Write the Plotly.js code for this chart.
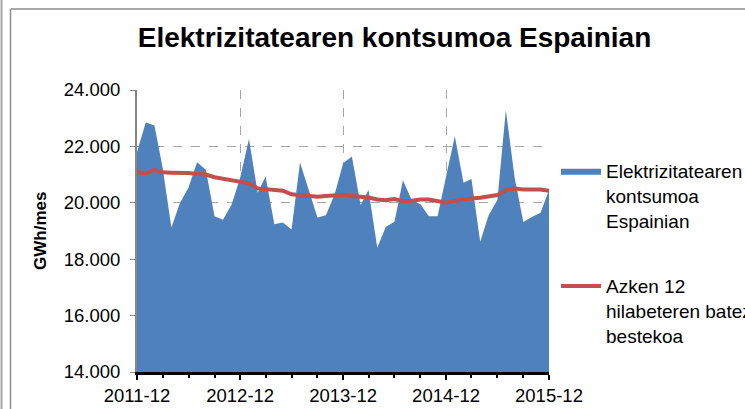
<!DOCTYPE html>
<html>
<head>
<meta charset="utf-8">
<script src="https://cdn.plot.ly/plotly-3.0.1.min.js"></script>
<style>
html,body{margin:0;padding:0;background:#fff;overflow:hidden;}
#chart{width:745px;height:409px;}
</style>
</head>
<body>
<div id="chart"></div>
<script>
var months = [
"2011-12-01","2012-01-01","2012-02-01","2012-03-01","2012-04-01","2012-05-01","2012-06-01","2012-07-01","2012-08-01","2012-09-01","2012-10-01","2012-11-01",
"2012-12-01","2013-01-01","2013-02-01","2013-03-01","2013-04-01","2013-05-01","2013-06-01","2013-07-01","2013-08-01","2013-09-01","2013-10-01","2013-11-01",
"2013-12-01","2014-01-01","2014-02-01","2014-03-01","2014-04-01","2014-05-01","2014-06-01","2014-07-01","2014-08-01","2014-09-01","2014-10-01","2014-11-01",
"2014-12-01","2015-01-01","2015-02-01","2015-03-01","2015-04-01","2015-05-01","2015-06-01","2015-07-01","2015-08-01","2015-09-01","2015-10-01","2015-11-01",
"2015-12-01"];

var consumption = [
21800,22850,22740,21230,19120,19980,20550,21440,21170,19520,19400,19950,
20900,22260,20360,20930,19240,19300,19050,21430,20450,19480,19560,20300,
21400,21640,19920,20450,18410,19145,19330,20800,20095,19950,19525,19525,
20930,22360,20715,20845,18615,19560,20095,23290,20900,19320,19500,19645,
20450];

var movingAvg = [
21080,21045,21165,21080,21070,21070,21060,21025,21000,20905,20845,20810,
20750,20690,20510,20490,20485,20430,20300,20275,20215,20215,20240,20250,
20285,20240,20215,20190,20120,20095,20130,20065,20070,20120,20115,20040,
20000,20070,20130,20155,20180,20215,20275,20450,20510,20475,20475,20470,
20430];

var seriesNames = [
"Elektrizitatearen<br>kontsumoa<br>Espainian",
"Azken 12<br>hilabeteren batez<br>bestekoa"];

var yTicks = [14000,16000,18000,20000,22000,24000];
var xTickLabels = ["2011-12","2012-12","2013-12","2014-12","2015-12"];
var xTickVals = ["2011-12-01","2012-12-01","2013-12-01","2014-12-01","2015-12-01"];

var FONT = "Arial, 'Liberation Sans', sans-serif";

var traces = [
  {
    x: months, y: consumption, type: "scatter", mode: "lines",
    fill: "tozeroy", fillcolor: "#4F81BD",
    line: {width: 0, color: "#4F81BD"},
    name: seriesNames[0], legendgroup: "a", hoverinfo: "x+y"
  },
  {
    x: months, y: movingAvg, type: "scatter", mode: "lines",
    line: {width: 4, color: "#C0504D"},
    name: seriesNames[1], legendgroup: "b", hoverinfo: "x+y"
  }
];

var L = 137, R = 549, T = 90, B = 372;
function px2x(p){ return (p - L) / (R - L); }
function px2y(p){ return (B - p) / (B - T); }

var layout = {
  width: 745, height: 409,
  margin: {l: L, r: 745 - R, t: T, b: 409 - B, pad: 0, autoexpand: false},
  paper_bgcolor: "#ffffff", plot_bgcolor: "#ffffff",
  separators: ",.",
  font: {family: FONT, size: 18, color: "#000"},
  title: {
    text: "<b>Elektrizitatearen kontsumoa Espainian</b>",
    font: {family: FONT, size: 28, color: "#000"},
    xref: "container", x: 394.5 / 745, xanchor: "center",
    yref: "container", y: 1 - 37 / 409, yanchor: "middle"
  },
  xaxis: {
    type: "date",
    range: ["2011-12-01", "2015-12-01"],
    tickvals: xTickVals, ticktext: xTickLabels,
    ticks: "outside", ticklen: 5, tickwidth: 2, tickcolor: "#000",
    showline: true, linecolor: "#000", linewidth: 3,
    showgrid: true, gridcolor: "#A6A6A6", griddash: "dash", gridwidth: 1,
    zeroline: false,
    tickfont: {family: FONT, size: 18.5, color: "#000"},
    minor: {dtick: "M3", tick0: "2011-12-01", ticks: "outside", ticklen: 3, tickwidth: 2, tickcolor: "#000", showgrid: false},
    fixedrange: true
  },
  xaxis2: {
    type: "date", overlaying: "x", anchor: "y", side: "bottom",
    range: ["2011-12-01", "2015-12-01"],
    tickvals: xTickVals, ticktext: xTickLabels, showticklabels: false,
    ticks: "inside", ticklen: 5, tickwidth: 2, tickcolor: "#000",
    showline: false, showgrid: false, zeroline: false, fixedrange: true
  },
  yaxis: {
    range: [14000, 24000],
    tickvals: yTicks, tickformat: ",d",
    ticks: "outside", ticklen: 5, tickwidth: 1, tickcolor: "#868686",
    showline: true, linecolor: "#868686", linewidth: 2,
    showgrid: true, gridcolor: "#A6A6A6", griddash: "dash", gridwidth: 1,
    zeroline: false,
    tickfont: {family: FONT, size: 18.5, color: "#000"},
    ticklabelstandoff: 6,
    fixedrange: true
  },
  legend: {
    x: px2x(556), xanchor: "left",
    y: px2y(152), yanchor: "top",
    font: {family: FONT, size: 19, color: "#000"},
    valign: "top",
    itemwidth: 40,
    tracegroupgap: 38,
    bgcolor: "rgba(0,0,0,0)", borderwidth: 0
  },
  showlegend: true,
  annotations: [{
    text: "<b>GWh/mes</b>", textangle: -90,
    xref: "paper", x: px2x(40), xanchor: "center",
    yref: "paper", y: 0.5, yanchor: "middle",
    showarrow: false, font: {family: FONT, size: 17, color: "#000"}
  }],
  shapes: [
    {type: "line", xref: "paper", yref: "paper", x0: px2x(10.5), x1: px2x(10.5), y0: px2y(9), y1: px2y(420), line: {color: "#8C8C8C", width: 1.5}},
    {type: "line", xref: "paper", yref: "paper", x0: px2x(10.5), x1: px2x(760), y0: px2y(9), y1: px2y(9), line: {color: "#8C8C8C", width: 1.5}},
    {type: "line", xref: "paper", yref: "paper", x0: px2x(1.5), x1: px2x(1.5), y0: px2y(-5), y1: px2y(420), line: {color: "#A6A6A6", width: 2}}
  ]
};

Plotly.newPlot("chart", traces, layout, {displayModeBar: false, staticPlot: true});
</script>
</body>
</html>
